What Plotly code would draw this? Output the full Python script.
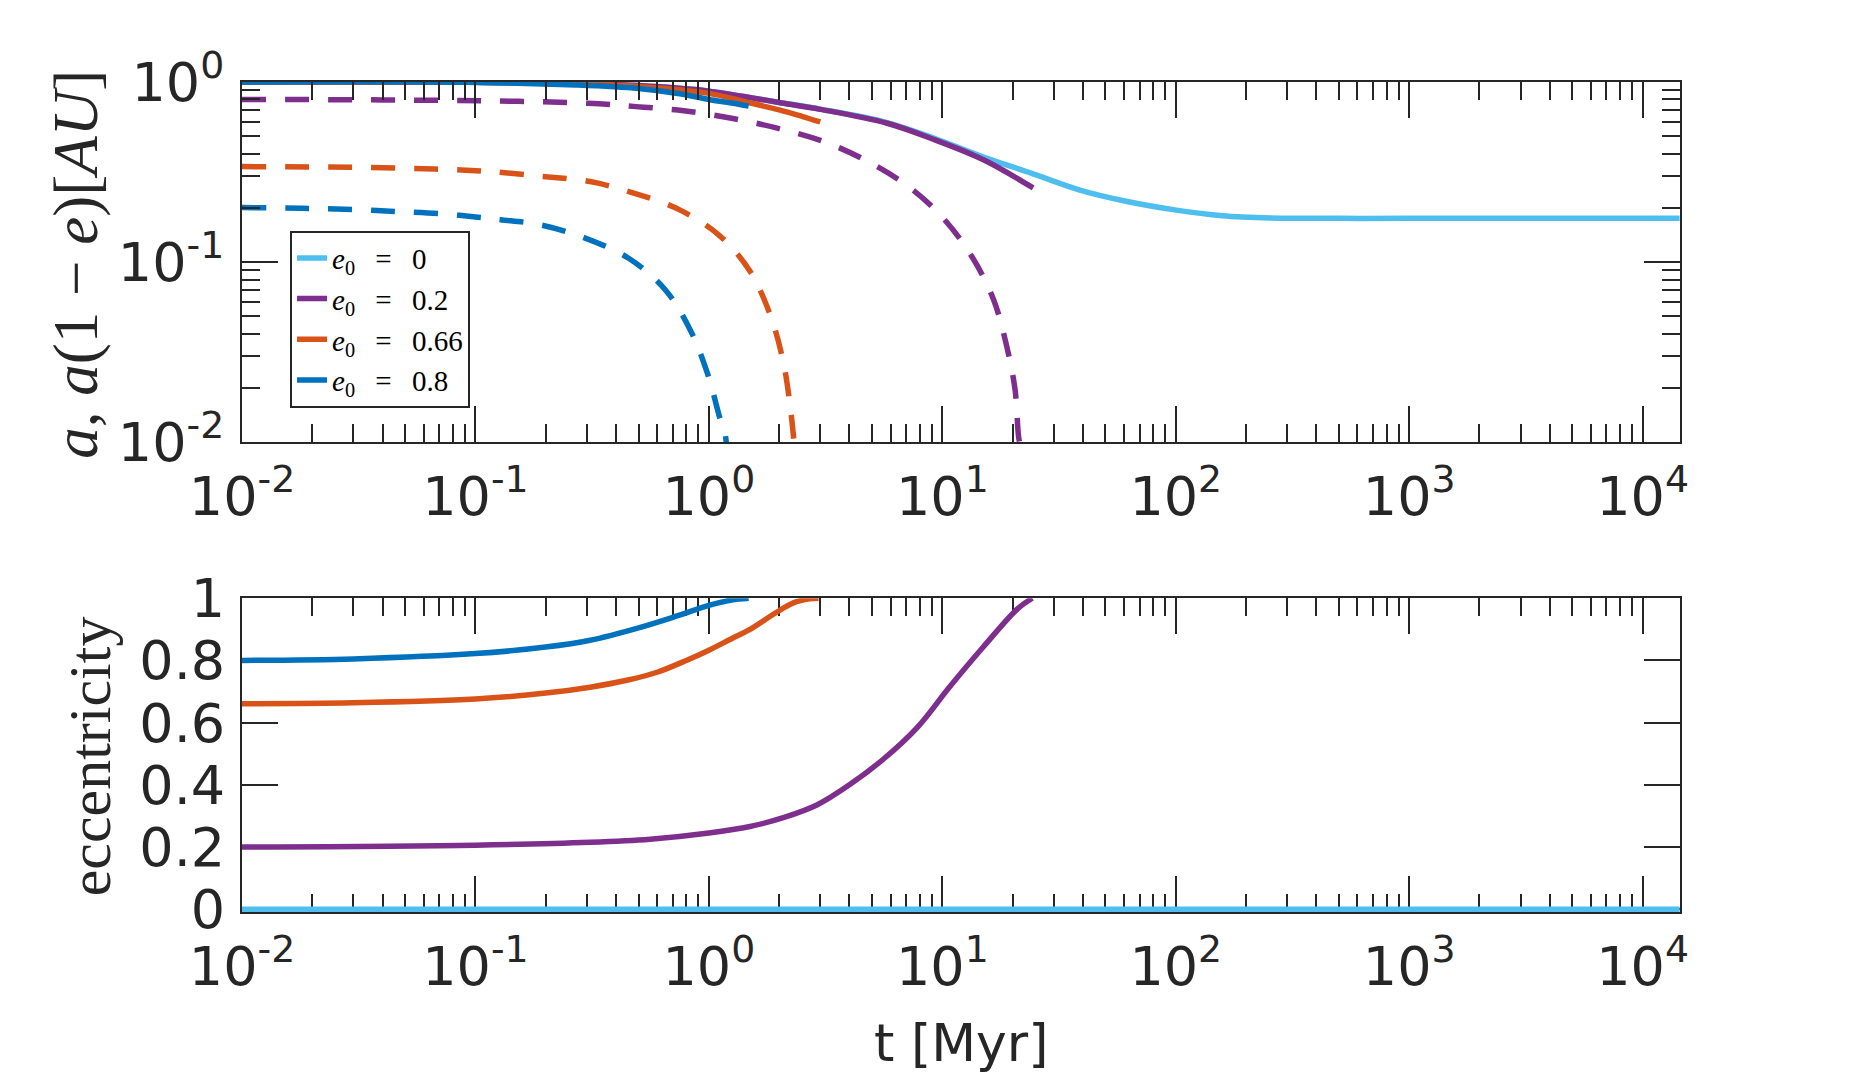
import plotly.graph_objects as go

# --- data (t in Myr) ---
# e0 = 0 (light blue)
t_e0 = [0.01, 0.1, 0.3, 0.5, 1.0, 1.41, 2.0, 3.0, 5.8, 9.3, 15, 24, 38.5, 62, 99, 158, 255, 500, 1000, 14400]
a_e0 = [1.0, 0.997, 0.978, 0.955, 0.89, 0.83, 0.77, 0.707, 0.595, 0.485, 0.383, 0.312, 0.252, 0.217, 0.195, 0.181, 0.176, 0.175, 0.175, 0.175]
ecc_t_e0 = [0.01, 14400]
ecc_e0 = [0.0, 0.0]

# e0 = 0.2 (purple)
t_e02 = [0.01, 0.1, 0.3, 0.5, 1.0, 1.41, 2.0, 3.0, 5.8, 9.3, 15, 24.5]
a_e02 = [1.0, 0.997, 0.978, 0.955, 0.89, 0.83, 0.77, 0.705, 0.59, 0.477, 0.37, 0.258]
peri_t_e02 = [0.01, 0.04, 0.118, 0.304, 0.487, 0.78, 1.25, 1.98, 3.1, 4.8, 7.3, 10.1, 13.4, 16.6, 18.9, 20.5, 21.2, 21.6]
peri_e02 = [0.80, 0.795, 0.785, 0.762, 0.73, 0.693, 0.629, 0.553, 0.467, 0.362, 0.258, 0.175, 0.107, 0.0616, 0.0338, 0.0195, 0.0108, 0.0095]
ecc_t_e02 = [0.01, 0.1, 0.31, 0.56, 1.0, 1.5, 2.1, 2.9, 4.0, 5.6, 7.8, 10.8, 15, 21, 24.3]
ecc_e02 = [0.2, 0.206, 0.215, 0.225, 0.245, 0.266, 0.295, 0.335, 0.40, 0.483, 0.584, 0.717, 0.844, 0.966, 1.0]

# e0 = 0.66 (orange)
t_e066 = [0.01, 0.1, 0.3, 0.5, 1.0, 1.41, 2.0, 2.5, 3.0]
a_e066 = [1.0, 0.997, 0.975, 0.945, 0.865, 0.78, 0.70, 0.645, 0.60]
peri_t_e066 = [0.01, 0.03, 0.06, 0.1, 0.12, 0.19, 0.31, 0.48, 0.75, 1.12, 1.5, 1.83, 2.08, 2.23, 2.32]
peri_e066 = [0.339, 0.336, 0.33, 0.322, 0.317, 0.30, 0.28, 0.241, 0.195, 0.139, 0.089, 0.051, 0.0282, 0.0158, 0.0098]
ecc_t_e066 = [0.01, 0.03, 0.1, 0.2, 0.31, 0.45, 0.6, 0.8, 1.0, 1.25, 1.5, 1.95, 2.3, 2.7, 2.95]
ecc_e066 = [0.661, 0.664, 0.676, 0.695, 0.714, 0.737, 0.762, 0.80, 0.833, 0.87, 0.90, 0.955, 0.985, 0.998, 1.0]

# e0 = 0.8 (blue)
t_e08 = [0.01, 0.1, 0.27, 0.5, 0.75, 1.0, 1.25, 1.48]
a_e08 = [1.0, 0.995, 0.962, 0.92, 0.86, 0.80, 0.765, 0.735]
peri_t_e08 = [0.01, 0.018, 0.03, 0.046, 0.074, 0.1, 0.128, 0.19, 0.295, 0.453, 0.65, 0.832, 0.99, 1.12, 1.175, 1.19]
peri_e08 = [0.201, 0.199, 0.196, 0.191, 0.185, 0.178, 0.172, 0.161, 0.136, 0.105, 0.0703, 0.042, 0.0237, 0.0133, 0.011, 0.0095]
ecc_t_e08 = [0.01, 0.03, 0.1, 0.2, 0.31, 0.5, 0.73, 1.0, 1.25, 1.48]
ecc_e08 = [0.80, 0.805, 0.822, 0.843, 0.865, 0.905, 0.943, 0.977, 0.994, 1.0]

eq = "\u2002\u2009=\u2002\u2009"
names = ["<i>e</i><sub>0</sub>" + eq + "0", "<i>e</i><sub>0</sub>" + eq + "0.2",
         "<i>e</i><sub>0</sub>" + eq + "0.66", "<i>e</i><sub>0</sub>" + eq + "0.8"]
colors = ["#4DBEEE", "#7E2F8E", "#D95319", "#0072BD"]

x_tickvals = [1e-2, 1e-1, 1e0, 1e1, 1e2, 1e3, 1e4]
x_ticktext = ["10<sup>-2</sup>", "10<sup>-1</sup>", "10<sup>0</sup>", "10<sup>1</sup>",
              "10<sup>2</sup>", "10<sup>3</sup>", "10<sup>4</sup>"]
y1_tickvals = [1e-2, 1e-1, 1e0]
y1_ticktext = ["10<sup>-2</sup>", "10<sup>-1</sup>", "10<sup>0</sup>"]
y2_tickvals = [0, 0.2, 0.4, 0.6, 0.8, 1.0]
y2_ticktext = ["0", "0.2", "0.4", "0.6", "0.8", "1"]

x_minor = [m * 10.0 ** k for k in range(-2, 5) for m in range(2, 10) if m * 10.0 ** k < 1.4e4]
y_minor = [m * 10.0 ** k for k in (-2, -1) for m in range(2, 10)]

INK = "#262626"
LW = 5.5
DASH = "24px,19px"
SMOOTH = 1.0

fig = go.Figure()

solid = [(t_e0, a_e0), (t_e02, a_e02), (t_e066, a_e066), (t_e08, a_e08)]
for (t, a), name, c in zip(solid, names, colors):
    fig.add_trace(go.Scatter(x=t, y=a, mode="lines", name=name,
                             line=dict(color=c, width=LW, shape="spline", smoothing=SMOOTH),
                             xaxis="x", yaxis="y"))

dashed = [(peri_t_e02, peri_e02, colors[1]), (peri_t_e066, peri_e066, colors[2]),
          (peri_t_e08, peri_e08, colors[3])]
for t, v, c in dashed:
    fig.add_trace(go.Scatter(x=t, y=v, mode="lines", showlegend=False,
                             line=dict(color=c, width=LW, dash=DASH, shape="spline", smoothing=SMOOTH),
                             xaxis="x", yaxis="y"))

ecc = [(ecc_t_e0, ecc_e0), (ecc_t_e02, ecc_e02), (ecc_t_e066, ecc_e066), (ecc_t_e08, ecc_e08)]
for (t, e), c in zip(ecc, colors):
    fig.add_trace(go.Scatter(x=t, y=e, mode="lines", showlegend=False,
                             line=dict(color=c, width=LW, shape="spline", smoothing=SMOOTH),
                             xaxis="x2", yaxis="y2"))

tick_font = dict(family="DejaVu Sans", size=54, color=INK)
common = dict(showline=True, linecolor=INK, linewidth=2, mirror="allticks",
              ticks="inside", tickcolor=INK, tickwidth=2, ticklen=36,
              showgrid=False, zeroline=False, tickfont=tick_font)
log_x = dict(type="log", range=[-2, 4.16], tickmode="array",
             tickvals=x_tickvals, ticktext=x_ticktext,
             minor=dict(ticks="inside", ticklen=18, tickcolor=INK, tickwidth=2,
                        tickmode="array", tickvals=x_minor, showgrid=False))

# page body adds an 8px margin, so the figure is 16px smaller than the window
fig.update_layout(
    width=1837, height=1074,
    margin=dict(l=234, r=165, t=74, b=170),
    paper_bgcolor="white", plot_bgcolor="white",
    xaxis=dict(**common, **log_x, domain=[0, 1], anchor="y", ticklabelstandoff=6),
    yaxis=dict(**common, type="log", range=[-2, 0], domain=[0.566, 1], anchor="x",
               tickmode="array", tickvals=y1_tickvals, ticktext=y1_ticktext,
               ticklabelstandoff=5,
               minor=dict(ticks="inside", ticklen=18, tickcolor=INK, tickwidth=2,
                          tickmode="array", tickvals=y_minor, showgrid=False)),
    xaxis2=dict(**common, **log_x, domain=[0, 1], anchor="y2", ticklabelstandoff=6,
                layer="below traces"),
    # tiny pad below 0 so the e0 = 0 line is not cut in half by the plot clip
    yaxis2=dict(**common, range=[-0.009, 1], domain=[0, 0.378], anchor="x2",
                tickmode="array", tickvals=y2_tickvals, ticktext=y2_ticktext,
                ticklabelstandoff=4, layer="below traces"),
    legend=dict(x=0.0334, y=0.821, xanchor="left", yanchor="top",
                bgcolor="white", bordercolor=INK, borderwidth=2,
                font=dict(family="Liberation Serif", size=29, color="black"),
                tracegroupgap=0),
    showlegend=True,
    annotations=[
        dict(text="<i>a</i>, <i>a</i>(1 − <i>e</i>)[<i>AU</i>]", textangle=-90,
             x=-0.116, y=0.78, xref="paper", yref="paper", showarrow=False,
             xanchor="center", yanchor="middle",
             font=dict(family="Liberation Serif", size=63, color=INK)),
        dict(text="eccentricity", textangle=-90,
             x=-0.106, y=0.187, xref="paper", yref="paper", showarrow=False,
             xanchor="center", yanchor="middle",
             font=dict(family="Liberation Serif", size=60, color=INK)),
        dict(text="t [Myr]", x=0.5, y=-0.158, xref="paper", yref="paper",
             showarrow=False, xanchor="center", yanchor="middle",
             font=dict(family="DejaVu Sans", size=52, color=INK)),
    ],
)

fig.write_html("out.html")
